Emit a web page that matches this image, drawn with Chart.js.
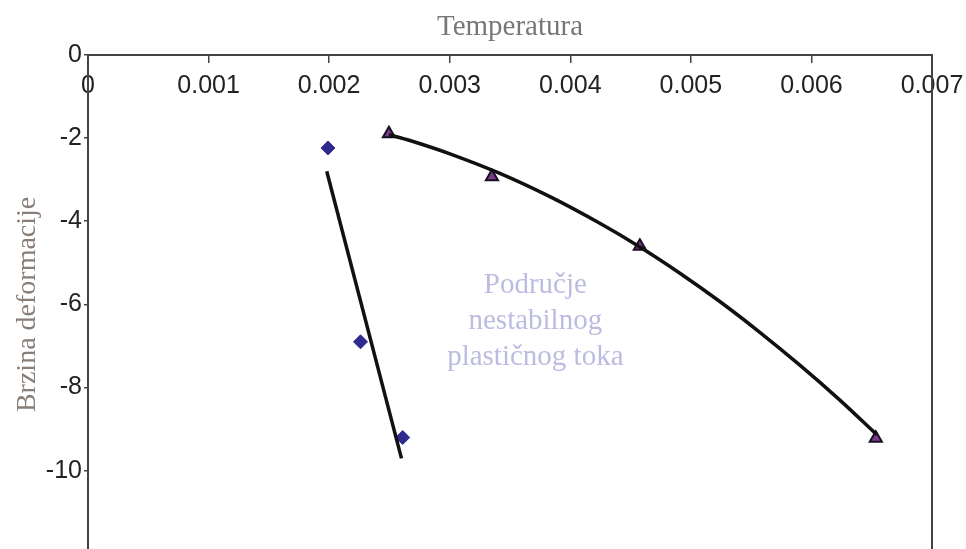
<!DOCTYPE html>
<html>
<head>
<meta charset="utf-8">
<script src="https://cdn.jsdelivr.net/npm/chart.js@4.4.1/dist/chart.umd.min.js"></script>
<style>
	html, body { margin: 0; padding: 0; background: #fff; overflow: hidden; }
	#container { width: 966px; height: 563px; position: relative; }
</style>
</head>
<body>
<div id="container"><canvas id="graph"></canvas></div>
<script>

// tackice (romb) - prva serija
const diamondX = [0.00199, 0.00226, 0.00261]
const diamondY = [-2.24, -6.9, -9.2]

// linearni trend prve serije
const trendX = [0.00198, 0.00260]
const trendY = [-2.8, -9.7]

// trokuti - druga serija
const triangleX = [0.002496, 0.00335, 0.004577, 0.006534]
const triangleY = [-1.9, -2.93, -4.6, -9.22]

// polinomni trend druge serije (ocitano sa slike)
const curveX = [0.002496, 0.00267, 0.003002, 0.003416, 0.003831, 0.004245, 0.004577, 0.004909, 0.00524, 0.005572, 0.005904, 0.006236, 0.006542]
const curveY = [-1.92, -2.06, -2.38, -2.85, -3.41, -4.05, -4.62, -5.25, -5.93, -6.67, -7.46, -8.30, -9.13]

const xTicks = [0, 0.001, 0.002, 0.003, 0.004, 0.005, 0.006, 0.007]
const yTicks = [0, -2, -4, -6, -8, -10]

const noteLines = ["Područje", "nestabilnog", "plastičnog toka"]
const notePos = { x: 0.00371, y: -6.42 }

const toPoints = (xs, ys) => xs.map((x, i) => ({ x: x, y: ys[i] }))

const noPadding = scale => {
	scale.paddingLeft = 0
	scale.paddingRight = 0
	scale.paddingTop = 0
	scale.paddingBottom = 0
}

// tekst u sredini grafa
const notePlugin = {
	id: "note",
	afterDatasetsDraw(chart) {
		const ctx = chart.ctx
		const cx = chart.scales.x.getPixelForValue(notePos.x)
		const cy = chart.scales.y.getPixelForValue(notePos.y)
		ctx.save()
		ctx.font = "29px 'Liberation Serif', 'DejaVu Serif', serif"
		ctx.fillStyle = "#bcbce0"
		ctx.textAlign = "center"
		ctx.textBaseline = "middle"
		noteLines.forEach((line, i) => {
			ctx.fillText(line, cx, cy + (i - 1) * 36)
		})
		ctx.restore()
	}
}

const graphData = {
	type: "scatter",
	data: {
		datasets: [
			{
				data: toPoints(trendX, trendY),
				showLine: true,
				borderColor: "#111",
				borderWidth: 3.5,
				pointRadius: 0
			},
			{
				data: toPoints(curveX, curveY),
				showLine: true,
				borderColor: "#111",
				borderWidth: 3.5,
				tension: 0.3,
				pointRadius: 0
			},
			{
				data: toPoints(diamondX, diamondY),
				pointStyle: "rectRot",
				pointRadius: 7,
				backgroundColor: "#2f2a8e",
				borderColor: "#2f2a8e",
				borderWidth: 1
			},
			{
				data: toPoints(triangleX, triangleY),
				pointStyle: "triangle",
				pointRadius: 7,
				backgroundColor: "#7b3b86",
				borderColor: "#1a0f22",
				borderWidth: 2
			}
		]
	},
	options: {
		responsive: true,
		maintainAspectRatio: false,
		animation: false,
		layout: { padding: { left: 0, right: 34, top: 0, bottom: 2 } },
		plugins: {
			legend: { display: false },
			tooltip: { enabled: false },
			title: {
				display: true,
				fullSize: false,
				text: "Temperatura",
				color: "#777",
				font: { family: "'Liberation Serif', serif", size: 29, weight: "normal" },
				padding: { top: 10, bottom: 10 }
			}
		},
		scales: {
			x: {
				type: "linear",
				position: { y: 0 },
				min: 0,
				max: 0.007,
				afterBuildTicks: scale => { scale.ticks = xTicks.map(v => ({ value: v })) },
				afterFit: noPadding,
				ticks: {
					color: "#222",
					padding: 9,
					font: { family: "'Liberation Sans', Arial, sans-serif", size: 25 },
					callback: v => String(v)
				},
				grid: { drawOnChartArea: false, tickLength: 7, color: "#444", lineWidth: 1.5 },
				border: { color: "#444", width: 2 }
			},
			y: {
				type: "linear",
				position: "left",
				min: -12,
				max: 0,
				afterBuildTicks: scale => { scale.ticks = yTicks.map(v => ({ value: v })) },
				afterFit: scale => {
					scale.width = 88
					noPadding(scale)
				},
				ticks: {
					color: "#222",
					padding: 2,
					font: { family: "'Liberation Sans', Arial, sans-serif", size: 25 },
					callback: v => String(v)
				},
				grid: { drawOnChartArea: false, tickLength: 4, color: "#444", lineWidth: 1.5 },
				border: { color: "#444", width: 2 },
				title: {
					display: true,
					text: "Brzina deformacije",
					color: "#8a7e78",
					font: { family: "'Liberation Serif', serif", size: 28 },
					padding: { top: 11, bottom: 0 }
				}
			},
			y2: {
				type: "linear",
				position: "right",
				min: -12,
				max: 0,
				afterFit: scale => {
					scale.width = 0
					noPadding(scale)
				},
				ticks: { display: false },
				grid: { drawOnChartArea: false, drawTicks: false },
				border: { color: "#444", width: 2 }
			}
		}
	},
	plugins: [notePlugin]
}

new Chart(document.getElementById("graph"), graphData)
</script>
</body>
</html>
